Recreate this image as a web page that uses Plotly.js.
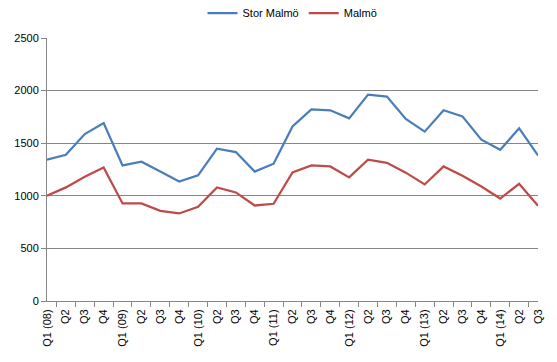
<!DOCTYPE html>
<html><head><meta charset="utf-8">
<script src="https://cdn.plot.ly/plotly-3.0.1.min.js"></script>
<style>html,body{margin:0;padding:0;background:#fff}#c{width:557px;height:362px}</style>
</head><body><div id="c"></div>
<script>
const categories = ["Q1 (08)","Q2 08","Q3 08","Q4 08","Q1 (09)","Q2 09","Q3 09","Q4 09","Q1 (10)","Q2 10","Q3 10","Q4 10","Q1 (11)","Q2 11","Q3 11","Q4 11","Q1 (12)","Q2 12","Q3 12","Q4 12","Q1 (13)","Q2 13","Q3 13","Q4 13","Q1 (14)","Q2 14","Q3 14"];
const tickLabels = ["Q1 (08)","Q2","Q3","Q4","Q1 (09)","Q2","Q3","Q4","Q1 (10)","Q2","Q3","Q4","Q1 (11)","Q2","Q3","Q4","Q1 (12)","Q2","Q3","Q4","Q1 (13)","Q2","Q3","Q4","Q1 (14)","Q2","Q3"];
const storMalmo = [1343,1390,1587,1692,1289,1324,1232,1136,1194,1448,1416,1230,1305,1660,1822,1813,1736,1962,1943,1730,1610,1813,1755,1533,1438,1641,1384];
const malmo = [1000,1080,1182,1270,927,927,857,832,895,1079,1032,908,924,1222,1289,1279,1175,1343,1314,1220,1108,1279,1190,1089,974,1114,905];
const yTicks = [0,500,1000,1500,2000,2500];

const font = {family:"Liberation Sans, Arial, sans-serif", size:11, color:"#000"};
Plotly.newPlot("c", [
  {x:categories, y:storMalmo, type:"scatter", mode:"lines", name:"Stor Malmö", line:{color:"#4A7EBB", width:2.25}},
  {x:categories, y:malmo, type:"scatter", mode:"lines", name:"Malmö", line:{color:"#BE4B48", width:2.25}}
], {
  width:557, height:362,
  margin:{l:46.5, r:19, t:38, b:61, autoexpand:false},
  paper_bgcolor:"#fff", plot_bgcolor:"#fff",
  font:font,
  showlegend:true,
  legend:{orientation:"h", x:0.5, xanchor:"center", yref:"container", y:0.964, yanchor:"middle", xref:"paper", font:font, itemwidth:30, tracegroupgap:0},
  xaxis:{type:"category", tickmode:"array", tickvals:categories, ticktext:tickLabels, tickangle:-90,
    tickson:"boundaries", ticks:"outside", ticklen:5, tickcolor:"#868686", ticklabelstandoff:3,
    showline:true, linecolor:"#868686", linewidth:1, showgrid:false, zeroline:false, tickfont:font, fixedrange:true, automargin:false},
  yaxis:{range:[0,2500], tickvals:yTicks, ticks:"outside", ticklen:5, tickcolor:"#868686",
    showline:true, linecolor:"#868686", linewidth:1, showgrid:true, gridcolor:"#868686", gridwidth:1,
    zeroline:false, tickfont:font, fixedrange:true, automargin:false}
}, {staticPlot:true, displayModeBar:false});
</script></body></html>
